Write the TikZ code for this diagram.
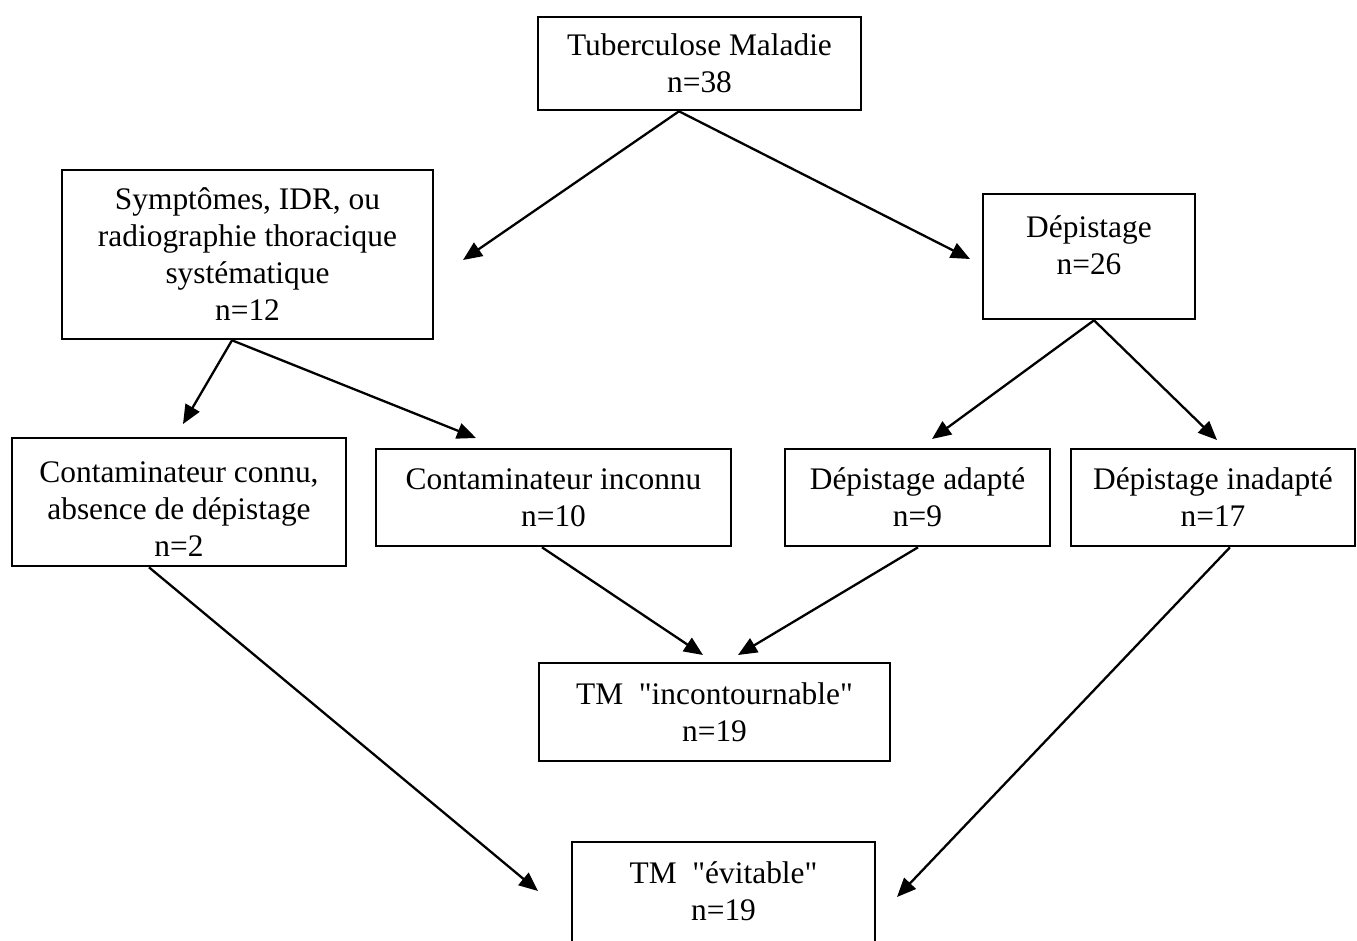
\documentclass[tikz,border=0pt]{standalone}
\usepackage{fontspec}
\setmainfont{Liberation Serif}[Ligatures=TeXOff]
\usetikzlibrary{arrows.meta}
\begin{document}
\begin{tikzpicture}[x=1pt,y=-1pt,
  box/.style={draw=black, line width=2.6pt, rectangle, inner sep=0pt, align=center,
    font=\fontsize{31.4}{37}\selectfont},
  txt/.style={inner sep=0pt, align=center, font=\fontsize{31.4}{37}\selectfont},
  conn/.style={line width=2.3pt, -{Triangle[length=19pt,width=16pt]}}]
\useasboundingbox (0,0) rectangle (1357,940);
\node[box, minimum width=323pt, minimum height=93pt] (b1) at (699.5,63.5) {Tuberculose Maladie\\n=38};
\node[box, minimum width=371pt, minimum height=169pt] (b2) at (247.5,254.5) {Symptômes, IDR, ou\\radiographie thoracique\\systématique\\n=12};
\node[box, minimum width=212pt, minimum height=125pt] (b3) at (1089,256.5) {};
\node[txt] (b3t) at (1089,245) {Dépistage\\n=26};
\node[box, minimum width=334pt, minimum height=128pt] (b4) at (179,502) {};
\node[txt] (b4t) at (179,509) {Contaminateur connu,\\absence de dépistage\\n=2};
\node[box, minimum width=355pt, minimum height=97pt] (b5) at (553.5,497.5) {Contaminateur inconnu\\n=10};
\node[box, minimum width=265pt, minimum height=97pt] (b6) at (917.5,497.5) {Dépistage adapté\\n=9};
\node[box, minimum width=284pt, minimum height=97pt] (b7) at (1213,497.5) {Dépistage inadapté\\n=17};
\node[box, minimum width=351pt, minimum height=98pt] (b8) at (714.5,712) {TM\ \ "incontournable"\\n=19};
\node[box, minimum width=303pt, minimum height=106pt] (b9) at (723.5,895) {};
\node[txt] (b9t) at (723.5,891) {TM\ \ "évitable"\\n=19};
\coordinate (t1) at (463,260);
\coordinate (t2) at (970,259);
\coordinate (t3) at (183,424);
\coordinate (t4) at (476,438);
\coordinate (t5) at (932,439);
\coordinate (t6) at (1217,440);
\coordinate (t7) at (703,655);
\coordinate (t8) at (738,655);
\coordinate (t9) at (538,891);
\coordinate (t10) at (897,897);
\draw[conn] ([xshift=-20.5pt]b1.south) -- (t1);
\draw[conn] ([xshift=-20.5pt]b1.south) -- (t2);
\draw[conn] ([xshift=-15.5pt]b2.south) -- (t3);
\draw[conn] ([xshift=-15.5pt]b2.south) -- (t4);
\draw[conn] ([xshift=5pt]b3.south) -- (t5);
\draw[conn] ([xshift=5pt]b3.south) -- (t6);
\draw[conn] ([xshift=-11.5pt]b5.south) -- (t7);
\draw[conn] ([xshift=0.5pt]b6.south) -- (t8);
\draw[conn] ([xshift=-30pt]b4.south) -- (t9);
\draw[conn] ([xshift=17pt]b7.south) -- (t10);
\end{tikzpicture}
\end{document}
